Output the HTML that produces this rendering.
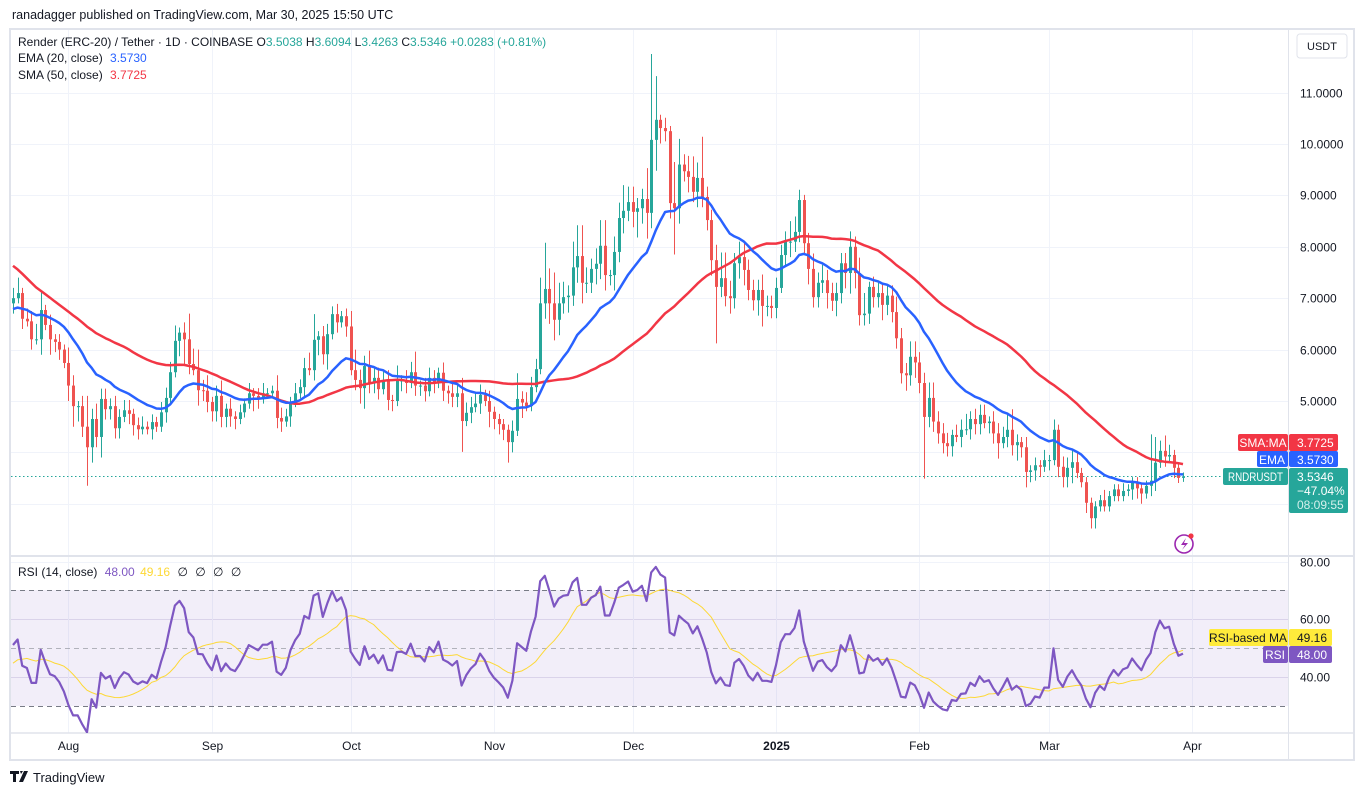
<!DOCTYPE html>
<html><head><meta charset="utf-8"><style>
html,body{margin:0;padding:0;background:#fff;width:1364px;height:796px;overflow:hidden;font-family:"Liberation Sans",sans-serif}
svg text{font-family:"Liberation Sans",sans-serif}
</style></head><body>
<svg id="c" width="1364" height="796" viewBox="0 0 1364 796" xmlns="http://www.w3.org/2000/svg">
<defs>
<clipPath id="mainClip"><rect x="11" y="30" width="1277" height="526"/></clipPath>
<clipPath id="rsiClip"><rect x="11" y="557" width="1277" height="176"/></clipPath>
</defs>
<text x="12" y="19" font-size="12.5" fill="#131722">ranadagger published on TradingView.com, Mar 30, 2025 15:50 UTC</text>
<rect x="10" y="29" width="1344" height="731" fill="#fff" stroke="#e0e3eb" stroke-width="2"/>
<g id="grid"></g>
<rect x="11" y="590" width="1277" height="116" fill="rgba(126,87,194,0.1)"/>
<line x1="11" x2="1288" y1="590.5" y2="590.5" stroke="#787b86" stroke-dasharray="5,4"/>
<line x1="11" x2="1288" y1="648.5" y2="648.5" stroke="#9598a1" stroke-dasharray="5,4" stroke-opacity="0.7"/>
<line x1="11" x2="1288" y1="706.5" y2="706.5" stroke="#787b86" stroke-dasharray="5,4"/>
<line x1="1288.5" x2="1288.5" y1="29" y2="760" stroke="#e0e3eb"/>
<line x1="10" x2="1354" y1="556" y2="556" stroke="#e0e3eb" stroke-width="2"/>
<line x1="10" x2="1354" y1="733" y2="733" stroke="#e0e3eb" stroke-width="1.5"/>
<line x1="11" x2="1288" y1="476.5" y2="476.5" stroke="#26a69a" stroke-dasharray="1.5,2.5"/>
<g id="main" clip-path="url(#mainClip)"></g>
<g id="rsi" clip-path="url(#rsiClip)"></g>
<g id="axes"></g>

<rect x="1297" y="34" width="50" height="24" rx="3" fill="#fff" stroke="#e0e3eb"/>
<text x="1322" y="50" font-size="11" text-anchor="middle" fill="#131722">USDT</text>

<text x="18" y="46" font-size="12" fill="#131722">Render (ERC-20) / Tether · 1D · COINBASE <tspan>O</tspan><tspan fill="#26a69a">3.5038</tspan> <tspan>H</tspan><tspan fill="#26a69a">3.6094</tspan> <tspan>L</tspan><tspan fill="#26a69a">3.4263</tspan> <tspan>C</tspan><tspan fill="#26a69a">3.5346 +0.0283 (+0.81%)</tspan></text>
<text x="18" y="62" font-size="12" fill="#131722">EMA (20, close) <tspan fill="#2962ff" dx="4">3.5730</tspan></text>
<text x="18" y="79" font-size="12" fill="#131722">SMA (50, close) <tspan fill="#f23645" dx="4">3.7725</tspan></text>
<text x="18" y="576" font-size="12" fill="#131722">RSI (14, close) <tspan fill="#7e57c2" dx="4">48.00</tspan> <tspan fill="#fdd835" dx="2">49.16</tspan> <tspan dx="4">∅</tspan> <tspan dx="4">∅</tspan> <tspan dx="4">∅</tspan> <tspan dx="4">∅</tspan></text>

<rect x="1238" y="434" width="50" height="17" rx="2" fill="#f23645"/>
<text x="1263" y="447" font-size="12" fill="#fff" text-anchor="middle">SMA:MA</text>
<rect x="1289" y="434" width="49" height="17" rx="2" fill="#f23645"/>
<text x="1297" y="447" font-size="12" fill="#fff">3.7725</text>
<rect x="1257" y="451" width="31" height="16" rx="2" fill="#2962ff"/>
<text x="1272" y="464" font-size="12" fill="#fff" text-anchor="middle">EMA</text>
<rect x="1289" y="451" width="49" height="16" rx="2" fill="#2962ff"/>
<text x="1297" y="464" font-size="12" fill="#fff">3.5730</text>
<rect x="1223" y="468" width="65" height="17" rx="2" fill="#26a69a"/>
<text x="1228" y="481" font-size="11.5" fill="#fff" textLength="55" lengthAdjust="spacingAndGlyphs">RNDRUSDT</text>
<rect x="1289" y="468" width="59" height="45" rx="2" fill="#26a69a"/>
<text x="1297" y="481" font-size="12" fill="#fff">3.5346</text>
<text x="1297" y="495" font-size="12" fill="#fff">−47.04%</text>
<text x="1297" y="509" font-size="12" fill="#d4f0ec">08:09:55</text>

<rect x="1209" y="629" width="79" height="17" rx="2" fill="#ffeb3b"/>
<text x="1248" y="642" font-size="12" fill="#131722" text-anchor="middle">RSI-based MA</text>
<rect x="1289" y="629" width="43" height="17" rx="2" fill="#ffeb3b"/>
<text x="1297" y="642" font-size="12" fill="#131722">49.16</text>
<rect x="1263" y="646" width="25" height="17" rx="2" fill="#7e57c2"/>
<text x="1275" y="659" font-size="12" fill="#fff" text-anchor="middle">RSI</text>
<rect x="1289" y="646" width="43" height="17" rx="2" fill="#7e57c2"/>
<text x="1297" y="659" font-size="12" fill="#fff">48.00</text>

<g>
<circle cx="1184" cy="544" r="9" fill="none" stroke="#9c27b0" stroke-width="1.6"/>
<path d="M1186 538 L1181 545 L1185 545 L1182 550 L1188 543 L1184 543 Z" fill="#9c27b0"/>
<circle cx="1191" cy="536" r="2.6" fill="#f23645"/>
</g>

<g>
<path d="M10 771 h9 v3 h-3 v8 h-3 v-8 h-3 z M20 771 h3 l-2 3 z M24 771 h4 l-5 11 h-4 z" fill="#131722"/>
<text x="33" y="782" font-size="13" fill="#131722">TradingView</text>
</g>
</svg>
<script>
// ---- data ----
const priorCloses = [10.4,10.6,10.8,11.0,10.7,10.5,10.1,9.9,9.5,9.7,9.3,9.1,8.7,8.5,8.1,8.3,8.0,7.8,7.6,7.5,7.2,7.0,6.8,6.6,6.9,7.2,7.4,7.1,6.8,6.6,6.4,6.1,5.8,5.9,5.7,5.9,6.2,6.4,6.6,6.5,6.8,6.7,6.5,6.8,6.9,7.0,6.7,6.6,6.8,6.9];
const closes = [
7.0,7.1,6.6,6.55,6.2,6.2,6.77,6.48,6.2,6.15,
6.0,5.74,5.3,4.9,4.9,4.5,4.1,4.65,4.3,5.04,
4.84,4.9,4.47,4.69,4.82,4.75,4.53,4.45,4.5,4.45,
4.59,4.5,4.78,5.06,5.56,6.17,6.33,6.2,5.72,5.6,
5.21,5.2,4.98,4.8,5.1,4.69,4.85,4.7,4.65,4.78,
4.95,5.15,5.1,5.05,5.15,5.15,5.2,4.67,4.6,4.7,
4.98,5.15,5.27,5.64,5.6,6.19,6.26,5.91,6.3,6.69,
6.53,6.65,6.45,5.6,5.41,5.25,5.68,5.35,5.45,5.23,
5.4,5.02,5.0,5.39,5.4,5.35,5.56,5.3,5.3,5.19,
5.45,5.35,5.55,5.2,5.15,5.08,5.15,4.61,4.77,4.88,
4.95,5.12,5.0,4.79,4.65,4.55,4.44,4.2,4.42,5.04,
4.97,4.9,5.27,5.62,6.9,7.18,6.9,6.58,6.9,7.02,
7.05,7.6,7.82,7.3,7.3,7.57,7.67,8.02,7.45,7.45,
7.9,8.56,8.7,8.87,8.68,8.75,8.93,8.66,10.08,10.47,
10.31,10.25,8.85,8.75,9.6,9.47,9.36,9.07,9.34,8.97,
8.52,7.74,7.22,7.39,7.04,7.0,7.68,7.8,7.55,7.16,
6.96,7.16,6.85,6.85,6.81,7.2,7.84,8.1,8.1,8.29,
8.91,8.07,7.57,7.02,7.3,7.35,7.1,6.95,7.1,7.68,
7.49,8.0,7.49,6.67,6.7,7.22,7.02,7.1,6.87,7.05,
6.73,6.22,5.54,5.5,5.86,5.75,5.35,4.69,5.06,4.6,
4.37,4.18,4.12,4.34,4.3,4.44,4.45,4.65,4.55,4.73,
4.57,4.6,4.37,4.18,4.3,4.44,4.14,4.2,4.1,3.62,
3.65,3.75,3.72,3.85,3.85,4.44,3.72,3.52,3.7,3.81,
3.6,3.42,3.02,2.72,2.95,3.07,2.95,3.15,3.28,3.15,
3.25,3.28,3.42,3.3,3.2,3.35,3.45,3.8,4.03,3.92,
3.95,3.7,3.5038,3.5346];
const wickUp = [
.2,.3,.1,.2,.2,.3,.35,.1,.2,.1, .15,.1,.3,.2,.1,.2,.6,.2,.3,.2,
.2,.15,.2,.15,.2,.2,.1,.15,.2,.1, .15,.1,.2,.2,.2,.3,.1,.2,.5,.3,
.4,.2,.3,.1,.2,.3,.1,.2,.1,.15, .1,.2,.1,.15,.2,.1,.1,.3,.2,.15,
.1,.2,.15,.2,.3,.5,.1,.2,.2,.15, .2,.1,.15,.3,.4,.2,.2,.3,.2,.2,
.2,.2,.1,.3,.1,.2,.2,.4,.1,.15, .2,.15,.1,.2,.1,.2,.2,.3,.2,.2,
.2,.2,.1,.2,.1,.1,.1,.1,.2,.5, .15,.2,.2,.2,.5,.9,.4,.6,.4,.3,
.2,.5,.6,.6,.3,.2,.3,.5,.5,.1, .3,.3,.5,.3,.3,.2,.2,.6,1.67,.85,
.1,.2,.1,.8,.5,.2,.3,.4,.3,.8, .2,.2,.3,.5,.5,.3,.2,.3,.3,.2,
.2,.2,.3,.2,.2,.2,.2,.2,.4,.3, .2,.1,.2,.3,.2,.3,.2,.2,.2,.2,
.2,.3,.2,.3,.4,.1,.2,.2,.2,.2, .2,.3,.2,.2,.3,.3,.2,.2,.3,.3,
.2,.2,.2,.1,.2,.2,.3,.15,.2,.2, .2,.1,.2,.2,.2,.3,.4,.15,.1,.2,
.1,.15,.1,.2,.1,.2,.1,.2,.2,.25, .2,.1,.1,.1,.1,.1,.2,.1,.1,.1,
.15,.1,.1,.1,.1,.1,.9,.5,.2,.3, .2,.1,.1,.075];
const wickDown = [
.2,.1,.2,.1,.2,.1,.3,.1,.3,.2, .2,.1,.3,.4,.3,.2,.75,.3,.2,.4,
.2,.2,.2,.2,.1,.2,.2,.2,.1,.1, .2,.1,.1,.2,.1,.1,.3,.5,.2,.1,
.3,.2,.2,.2,.2,.2,.2,.2,.2,.1, .1,.1,.3,.2,.1,.1,.1,.2,.2,.1,
.2,.1,.1,.2,.1,.2,.3,.2,.3,.1, .2,.1,.2,.1,.2,.3,.4,.2,.2,.2,
.1,.2,.2,.1,.2,.2,.1,.2,.2,.2, .1,.2,.1,.2,.2,.2,.2,.6,.1,.2,
.1,.2,.1,.3,.2,.2,.2,.4,.2,.1, .3,.1,.1,.1,.1,.3,.4,.4,.3,.2,
.3,.2,.3,.4,.2,.2,.3,.3,.3,.2, .3,.2,.3,.2,.3,.5,.3,.5,.3,.6,
.3,.2,.3,.9,.3,.2,.3,.2,.3,.2, .2,.3,1.1,.2,.2,.3,.2,.3,.3,.2,
.2,.3,.4,.2,.2,.2,.1,.2,.3,.2, .2,.2,.3,.2,.2,.2,.3,.2,.3,.2,
.3,.4,.3,.2,.2,.2,.2,.2,.3,.2, .2,.2,.2,.3,.2,.3,.2,1.2,.2,.2,
.2,.2,.2,.2,.1,.2,.1,.2,.2,.2, .1,.2,.2,.3,.1,.2,.2,.3,.2,.3,
.2,.2,.2,.1,.2,.1,.2,.2,.2,.3, .1,.1,.2,.2,.2,.1,.1,.1,.1,.1,
.1,.1,.2,.2,.2,.1,.2,.2,.1,.2, .1,.2,.1,.078];
const priceTicks = [3,4,5,6,7,8,9,10,11];
const priceTickLabels = ["","","5.0000","6.0000","7.0000","8.0000","9.0000","10.0000","11.0000"];
const rsiTicks = [80,60,40];
const rsiTickLabels = ["80.00","60.00","40.00"];
const monthLabels = ["Aug","Sep","Oct","Nov","Dec","2025","Feb","Mar","Apr"];
const monthDayIndex = [12,43,73,104,134,165,196,224,255];

// ---- scales ----
const X0 = 13, STEP = (1183 - 13) / 253;
function xScale(i){ return X0 + i * STEP; }
function yPrice(p){ return 401 - (p - 5) * 51.4; }
function yRsi(v){ return 648 - (v - 50) * 2.88; }

const NS = "http://www.w3.org/2000/svg";
function mk(tag, attrs, parent){ const e = document.createElementNS(NS, tag); for (const k in attrs) e.setAttribute(k, attrs[k]); parent.appendChild(e); return e; }

const grid = document.getElementById('grid');
const main = document.getElementById('main');
const rsiG = document.getElementById('rsi');
const axes = document.getElementById('axes');

priceTicks.forEach((p, k) => {
  const y = Math.round(yPrice(p)) + 0.5;
  const l = mk('line', {x1: 11, x2: 1288, y1: y, y2: y, stroke: '#f0f3fa'}, grid);
  
  
  if (priceTickLabels[k]) {
    const t = mk('text', {x: 1300, y: y + 4, 'font-size': 12, fill: '#131722'}, axes);
    t.textContent = priceTickLabels[k];
    
    
  }
});
rsiTicks.forEach((v, k) => {
  const y = Math.round(yRsi(v)) + 0.5;
  const l = mk('line', {x1: 11, x2: 1288, y1: y, y2: y, stroke: v === 80 ? '#f0f3fa' : 'rgba(180,170,210,0.35)'}, grid);
  
  
  const t = mk('text', {x: 1300, y: y + 4, 'font-size': 12, fill: '#131722'}, axes);
  t.textContent = rsiTickLabels[k];
  
  
});
monthLabels.forEach((m, k) => {
  const x = Math.round(xScale(monthDayIndex[k])) + 0.5;
  const l = mk('line', {x1: x, x2: x, y1: 30, y2: 733, stroke: '#f0f3fa'}, grid);
  
  
  const t = mk('text', {x: x, y: 750, 'font-size': 12, fill: '#131722', 'text-anchor': 'middle', 'font-weight': m === '2025' ? 'bold' : 'normal'}, axes);
  t.textContent = m;
  
  
});

const all = priorCloses.concat(closes);
const P = priorCloses.length;
const ema = []; let e = all[0]; const kE = 2 / 21;
all.forEach((c, i) => { e = i === 0 ? c : c * kE + e * (1 - kE); ema.push(e); });
const sma = all.map((c, i) => { const s = Math.max(0, i - 49); let sum = 0; for (let j = s; j <= i; j++) sum += all[j]; return sum / (i - s + 1); });
const rsi = []; let ag = 0, al = 0;
for (let i = 1; i < all.length; i++) {
  const d = all[i] - all[i - 1]; const g = Math.max(d, 0), l = Math.max(-d, 0);
  if (i <= 14) { ag += g / 14; al += l / 14; } else { ag = (ag * 13 + g) / 14; al = (al * 13 + l) / 14; }
  rsi[i] = al === 0 ? 100 : 100 - 100 / (1 + ag / al);
}
const rsiMa = rsi.map((v, i) => { if (i < 14) return v; let s = 0; for (let j = i - 13; j <= i; j++) s += rsi[j]; return s / 14; });

function path(vals, yf){ let d = ''; closes.forEach((c, i) => { d += (i ? 'L' : 'M') + xScale(i).toFixed(1) + ' ' + yf(vals[P + i]).toFixed(1); }); return d; }

closes.forEach((c, i) => {
  const o = i === 0 ? priorCloses[P - 1] : closes[i - 1];
  const up = c >= o;
  const col = up ? '#26a69a' : '#ef5350';
  const hi = Math.max(o, c) + wickUp[i], lo = Math.min(o, c) - wickDown[i];
  const x = Math.round(xScale(i));
  const g = mk('g', {}, main);
  
  
  mk('line', {x1: x + 0.5, x2: x + 0.5, y1: yPrice(hi), y2: yPrice(lo), stroke: col, 'stroke-width': 1}, g);
  const yt = yPrice(Math.max(o, c)), yb = yPrice(Math.min(o, c));
  mk('rect', {x: x - 1, y: yt, width: 3, height: Math.max(1, yb - yt), fill: col}, g);
});

const smaPath = mk('path', {d: path(sma, yPrice), fill: 'none', stroke: '#f23645', 'stroke-width': 2.5, 'stroke-linejoin': 'round'}, main);


const emaPath = mk('path', {d: path(ema, yPrice), fill: 'none', stroke: '#2962ff', 'stroke-width': 2.5, 'stroke-linejoin': 'round'}, main);



const rsiMaPath = mk('path', {d: path(rsiMa, yRsi), fill: 'none', stroke: '#fdd835', 'stroke-width': 1}, rsiG);


const rsiPath = mk('path', {d: path(rsi, yRsi), fill: 'none', stroke: '#7e57c2', 'stroke-width': 2.2, 'stroke-linejoin': 'round'}, rsiG);


</script>
</body></html>
